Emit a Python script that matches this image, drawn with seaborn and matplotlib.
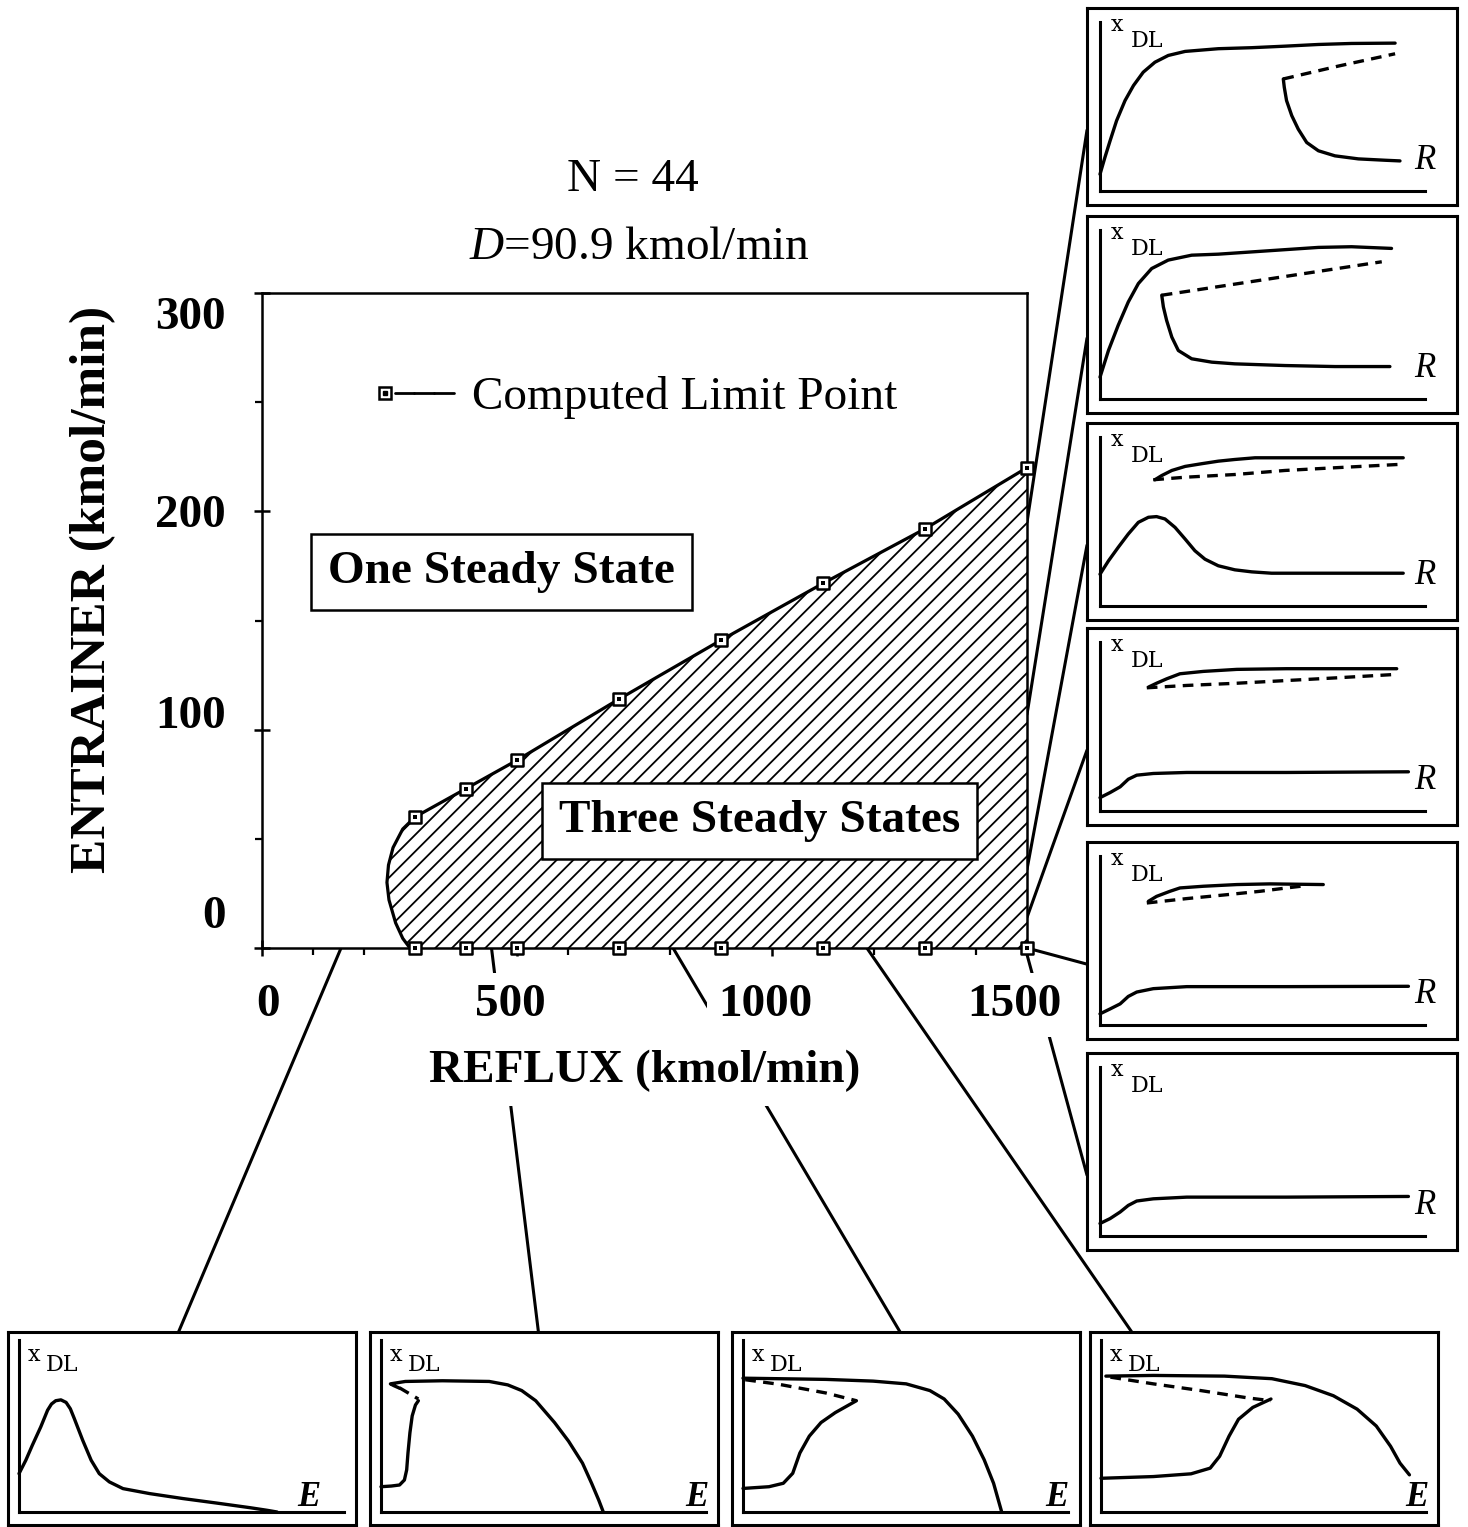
import matplotlib
matplotlib.use("Agg")
import matplotlib.pyplot as plt
import seaborn as sns
from matplotlib.patches import ConnectionPatch
from matplotlib.lines import Line2D
from matplotlib.legend_handler import HandlerTuple
from matplotlib.ticker import MultipleLocator
from matplotlib.transforms import ScaledTranslation

# ---------------- main diagram data ----------------
reflux_limit = [300, 400, 500, 700, 900, 1100, 1300, 1500]
entrainer_limit_upper = [60, 73, 86, 114, 141, 167, 192, 220]
entrainer_limit_lower = [0, 0, 0, 0, 0, 0, 0, 0]
nose_reflux = [300, 276, 257, 248, 245, 249, 262, 276, 290]
nose_entrainer = [60, 54.5, 46, 38, 30, 22, 11.5, 4.4, 0]
x_tick_values = [0, 500, 1000, 1500]
y_tick_values = [0, 100, 200, 300]

# points of the diagram the small panels refer to
right_link_reflux = [1500, 1500, 1500, 1500, 1500, 1500]
right_link_entrainer = [195, 107, 36, 14, 0, -3]
bottom_link_reflux = [155, 450, 806, 1186]
bottom_link_entrainer = [0, 0, 0, 0]

# ---------------- right panels (x_DL vs R) ----------------
r1_hi_x = [0, .015, .031, .051, .077, .103, .133, .169, .210, .262, .364, .467, .569, .672, .774, .908]
r1_hi_y = [.099, .198, .297, .416, .535, .624, .703, .762, .802, .826, .842, .848, .857, .867, .873, .875]
r1_mid_x = [.564, .733, .908]
r1_mid_y = [.663, .739, .812]
r1_lo_x = [.564, .567, .574, .590, .610, .636, .672, .723, .795, .877, .923]
r1_lo_y = [.663, .614, .535, .446, .366, .287, .238, .208, .190, .182, .178]

r2_hi_x = [0, .026, .056, .087, .118, .159, .210, .282, .364, .518, .672, .774, .897]
r2_hi_y = [.129, .287, .436, .574, .683, .772, .822, .851, .857, .877, .897, .901, .891]
r2_mid_x = [.190, .867]
r2_mid_y = [.614, .812]
r2_lo_x = [.190, .195, .205, .221, .241, .282, .344, .415, .569, .723, .892]
r2_lo_y = [.614, .545, .465, .366, .287, .238, .218, .208, .198, .192, .192]

r3_hi_x = [.169, .190, .221, .262, .313, .364, .415, .477, .672, .933]
r3_hi_y = [.747, .772, .802, .826, .842, .857, .867, .877, .877, .877]
r3_mid_x = [.164, .262, .415, .569, .723, .923]
r3_mid_y = [.747, .762, .778, .802, .818, .838]
r3_lo_x = [0, .026, .056, .087, .118, .149, .174, .200, .231, .262, .292, .323, .364, .415, .467, .528, .672, .933]
r3_lo_y = [.188, .267, .347, .426, .495, .525, .529, .515, .465, .396, .327, .277, .238, .214, .202, .194, .194, .194]

r4_hi_x = [.149, .174, .205, .246, .318, .421, .574, .913]
r4_hi_y = [.733, .756, .782, .812, .826, .838, .842, .842]
r4_mid_x = [.144, .267, .421, .574, .728, .908]
r4_mid_y = [.729, .743, .756, .772, .788, .808]
r4_lo_x = [0, .031, .062, .087, .113, .164, .267, .574, .949]
r4_lo_y = [.079, .109, .143, .188, .212, .222, .228, .228, .232]

r5_hi_x = [.149, .174, .215, .246, .318, .421, .523, .687]
r5_hi_y = [.732, .761, .791, .811, .821, .831, .835, .831]
r5_mid_x = [.144, .267, .390, .492, .574, .636]
r5_mid_y = [.722, .748, .771, .791, .811, .825]
r5_lo_x = [0, .031, .062, .087, .113, .164, .267, .574, .949]
r5_lo_y = [.066, .095, .125, .169, .195, .215, .227, .227, .229]

r6_lo_x = [0, .031, .062, .087, .113, .164, .267, .574, .949]
r6_lo_y = [.074, .103, .142, .181, .207, .220, .230, .230, .234]

# ---------------- bottom panels (x_DL vs E) ----------------
b1_x = [0, .021, .041, .067, .088, .100, .113, .129, .145, .158, .170, .196, .222, .247, .278, .320, .402, .505, .608, .711, .763, .794]
b1_y = [.223, .301, .388, .495, .592, .628, .647, .652, .637, .600, .544, .417, .301, .223, .175, .136, .107, .078, .052, .025, .010, 0]

b2_hi_x = [.057, .039, .029, .075, .189, .333, .390, .433, .476, .534, .577, .620, .648, .670, .684]
b2_hi_y = [.720, .735, .745, .759, .763, .759, .739, .706, .647, .520, .412, .284, .167, .069, 0]
b2_mid_x = [.057, .115]
b2_mid_y = [.722, .657]
b2_lo_x = [0, .032, .057, .072, .079, .083, .089, .096, .106, .115]
b2_lo_y = [.147, .151, .157, .186, .245, .343, .461, .559, .622, .647]

b3_hi_x = [0, .109, .255, .400, .502, .575, .619, .662, .706, .742, .771, .796]
b3_hi_y = [.778, .775, .771, .761, .745, .706, .657, .569, .441, .304, .167, 0]
b3_mid_x = [.007, .109, .255, .349]
b3_mid_y = [.769, .743, .692, .647]
b3_lo_x = [0, .080, .124, .153, .175, .204, .240, .284, .349]
b3_lo_y = [.137, .147, .167, .225, .343, .441, .520, .578, .647]

b4_hi_x = [.015, .161, .380, .526, .628, .715, .788, .847, .891, .920, .949]
b4_hi_y = [.790, .794, .790, .775, .735, .676, .598, .500, .382, .284, .216]
b4_mid_x = [.029, .161, .307, .453, .523]
b4_mid_y = [.784, .745, .706, .663, .647]
b4_lo_x = [0, .161, .277, .336, .365, .394, .423, .467, .523]
b4_lo_y = [.196, .206, .222, .255, .324, .441, .539, .608, .657]

right_panels = [
    [(r1_hi_x, r1_hi_y, False), (r1_mid_x, r1_mid_y, True), (r1_lo_x, r1_lo_y, False)],
    [(r2_hi_x, r2_hi_y, False), (r2_mid_x, r2_mid_y, True), (r2_lo_x, r2_lo_y, False)],
    [(r3_hi_x, r3_hi_y, False), (r3_mid_x, r3_mid_y, True), (r3_lo_x, r3_lo_y, False)],
    [(r4_hi_x, r4_hi_y, False), (r4_mid_x, r4_mid_y, True), (r4_lo_x, r4_lo_y, False)],
    [(r5_hi_x, r5_hi_y, False), (r5_mid_x, r5_mid_y, True), (r5_lo_x, r5_lo_y, False)],
    [(r6_lo_x, r6_lo_y, False)],
]
bottom_panels = [
    [(b1_x, b1_y, False)],
    [(b2_hi_x, b2_hi_y, False), (b2_mid_x, b2_mid_y, True), (b2_lo_x, b2_lo_y, False)],
    [(b3_hi_x, b3_hi_y, False), (b3_mid_x, b3_mid_y, True), (b3_lo_x, b3_lo_y, False)],
    [(b4_hi_x, b4_hi_y, False), (b4_mid_x, b4_mid_y, True), (b4_lo_x, b4_lo_y, False)],
]

# ---------------- style ----------------
sns.set_theme(style="white", rc={
    "axes.edgecolor": "black", "text.color": "black", "axes.labelcolor": "black",
    "xtick.color": "black", "ytick.color": "black", "hatch.linewidth": 1.3,
})
plt.rcParams["font.family"] = ["Liberation Serif", "DejaVu Serif"]
plt.rcParams["mathtext.fontset"] = "custom"
plt.rcParams["mathtext.rm"] = "Liberation Serif"
plt.rcParams["mathtext.it"] = "Liberation Serif:italic"

W, H = 1468, 1527
fig = plt.figure(figsize=(W / 100, H / 100), dpi=100, facecolor="white")


def px_axes(x0, y0, w, h, **kw):
    return fig.add_axes([x0 / W, 1 - (y0 + h) / H, w / W, h / H], **kw)


# ---------------- main axes ----------------
ax = px_axes(262, 293, 765, 655, zorder=0)
ax.set_facecolor("white")

poly_r = nose_reflux + [1500] + reflux_limit[::-1]
poly_e = nose_entrainer + [0] + entrainer_limit_upper[::-1]
ax.fill(poly_r, poly_e, facecolor="white", edgecolor="black", hatch="//", linewidth=0, zorder=1)

sns.lineplot(x=reflux_limit, y=entrainer_limit_upper, sort=False, estimator=None,
             color="black", linewidth=2.3, ax=ax, zorder=3)
sns.lineplot(x=nose_reflux, y=nose_entrainer, sort=False, estimator=None,
             color="black", linewidth=2.3, ax=ax, zorder=3)
for ys in (entrainer_limit_upper, entrainer_limit_lower):
    sns.scatterplot(x=reflux_limit, y=ys, marker="s", s=85, color="white", edgecolor="black",
                    linewidth=1.8, ax=ax, zorder=6, clip_on=False, legend=False)
    sns.scatterplot(x=reflux_limit, y=ys, marker="s", s=6, color="black", linewidth=0,
                    ax=ax, zorder=7, clip_on=False, legend=False)

ax.set_xlim(0, 1500)
ax.set_ylim(0, 300)
ax.set_xticks(x_tick_values)
ax.set_yticks(y_tick_values)
ax.xaxis.set_minor_locator(MultipleLocator(100))
ax.yaxis.set_minor_locator(MultipleLocator(50))
ax.tick_params(which="major", direction="inout", length=12, width=1.8, labelsize=34,
               bottom=True, left=True)
ax.tick_params(axis="x", which="major", pad=20)
ax.tick_params(axis="y", which="major", pad=20)
ax.tick_params(which="minor", direction="out", length=5, width=1.6, bottom=True, left=True)

# hand-set label nudges of the original drawing (pixels)
x_label_nudge = [6, -7, -7, -13]
y_label_nudge = [36, 18, 0, -20]
for lab, dx in zip(ax.get_xticklabels(), x_label_nudge):
    lab.set_fontweight("bold")
    lab.set_bbox(dict(facecolor="white", edgecolor="none", pad=8))
    lab.set_transform(lab.get_transform() + ScaledTranslation(dx / 100, 0, fig.dpi_scale_trans))
for lab, dy in zip(ax.get_yticklabels(), y_label_nudge):
    lab.set_fontweight("bold")
    lab.set_bbox(dict(facecolor="white", edgecolor="none", pad=8))
    lab.set_transform(lab.get_transform() + ScaledTranslation(0, dy / 100, fig.dpi_scale_trans))
for sp in ax.spines.values():
    sp.set_linewidth(1.8)
    sp.set_color("black")

ax.set_xlabel("REFLUX (kmol/min)", fontsize=34, fontweight="bold")
ax.set_ylabel("ENTRAINER (kmol/min)", fontsize=37, fontweight="bold")
ax.xaxis.set_label_coords(0.5, -0.156)
ax.yaxis.set_label_coords(-0.19, 0.547)
ax.xaxis.label.set_bbox(dict(facecolor="white", edgecolor="none", pad=10))

ax.text(0.485, 1.173, "N = 44", transform=ax.transAxes, ha="center", va="center", fontsize=34)
ax.text(0.494, 1.069, "$D$=90.9 kmol/min", transform=ax.transAxes, ha="center", va="center", fontsize=34)

box_style = dict(boxstyle="square,pad=0.36", facecolor="white", edgecolor="black", linewidth=1.8)
ax.text(469, 172, "One Steady State", ha="center", va="center", fontsize=34,
        fontweight="bold", bbox=box_style, zorder=8)
ax.text(976, 58, "Three Steady States", ha="center", va="center", fontsize=34,
        fontweight="bold", bbox=box_style, zorder=8)


class Overlay(tuple):
    pass


sq = Line2D([], [], marker="s", ms=9.2, mfc="white", mec="black", mew=1.8, ls="none")
dot = Line2D([], [], marker="s", ms=2.4, mfc="black", mec="black", ls="none")
seg = Line2D([], [], color="black", lw=2.0)
ax.legend(handles=[(Overlay((sq, dot)), seg, seg, seg)], labels=["Computed Limit Point"],
          handler_map={Overlay: HandlerTuple(ndivide=1), tuple: HandlerTuple(ndivide=4, pad=0)},
          loc="center left", bbox_to_anchor=(0.148, 0.840), frameon=False, fontsize=34,
          handlelength=1.66, handletextpad=0.4, borderpad=0, borderaxespad=0)


# ---------------- inset panels ----------------
def make_panel(bx, by, bw, bh, il, ir, it, ib, curves, axis_letter, letter_dx, letter_dy,
               xl_off, dl_off):
    frame = px_axes(bx, by, bw, bh, zorder=2)
    frame.set_facecolor("white")
    frame.set_xticks([])
    frame.set_yticks([])
    for sp in frame.spines.values():
        sp.set_linewidth(2.2)
        sp.set_color("black")
    inner = px_axes(bx + il, by + it, bw - il - ir, bh - it - ib, zorder=3)
    inner.set_facecolor("none")
    for xs, ys, dashed in curves:
        sns.lineplot(x=xs, y=ys, sort=False, estimator=None, color="black", linewidth=2.4,
                     linestyle=(0, (3.2, 2.2)) if dashed else "-", ax=inner, clip_on=False)
    inner.set_xlim(0, 1)
    inner.set_ylim(0, 1)
    inner.set_xticks([])
    inner.set_yticks([])
    inner.set_xlabel("")
    inner.set_ylabel("")
    inner.spines["top"].set_visible(False)
    inner.spines["right"].set_visible(False)
    for s in ("left", "bottom"):
        inner.spines[s].set_linewidth(2.2)
        inner.spines[s].set_color("black")
    inner.annotate("x", xy=(0, 1), xycoords="axes fraction", xytext=xl_off,
                   textcoords="offset pixels", ha="left", va="top", fontsize=16,
                   family="DejaVu Serif")
    inner.annotate("DL", xy=(0, 1), xycoords="axes fraction", xytext=dl_off,
                   textcoords="offset pixels", ha="left", va="top", fontsize=16,
                   family="DejaVu Serif")
    weight = "bold" if axis_letter == "E" else "normal"
    inner.annotate(axis_letter, xy=(1, 0), xycoords="axes fraction", xytext=(letter_dx, letter_dy),
                   textcoords="offset pixels", ha="center", va="baseline", fontsize=25,
                   fontstyle="italic", fontweight=weight)
    return frame


right_tops = [8, 216, 423, 628, 842, 1053]
right_frames = []
for top, curves in zip(right_tops, right_panels):
    right_frames.append(make_panel(1087, top, 370, 197, 13, 32, 14, 14, curves, "R", 0, 22,
                                   (11, 8), (31, -8)))

bottom_lefts = [8, 370, 732, 1090]
e_dx = [-35, -9, -11, -9]
bottom_frames = []
for left, curves, dx in zip(bottom_lefts, bottom_panels, e_dx):
    bottom_frames.append(make_panel(left, 1332, 348, 193, 11, 12, 8, 13, curves, "E", dx, 6,
                                    (9, -4), (27, -14)))

# ---------------- connector lines ----------------
for r, e, frame in zip(right_link_reflux, right_link_entrainer, right_frames):
    con = ConnectionPatch(xyA=(r, e), coordsA=ax.transData, xyB=(0, 0.38),
                          coordsB=frame.transAxes, color="black", linewidth=2.2, zorder=-1)
    fig.add_artist(con)
bottom_anchor = [0.49, 0.484, 0.483, 0.12]
for r, e, frame, fx in zip(bottom_link_reflux, bottom_link_entrainer, bottom_frames, bottom_anchor):
    con = ConnectionPatch(xyA=(r, e), coordsA=ax.transData, xyB=(fx, 1),
                          coordsB=frame.transAxes, color="black", linewidth=2.2, zorder=-1)
    fig.add_artist(con)

fig.savefig("out.png", dpi=100, facecolor="white")
